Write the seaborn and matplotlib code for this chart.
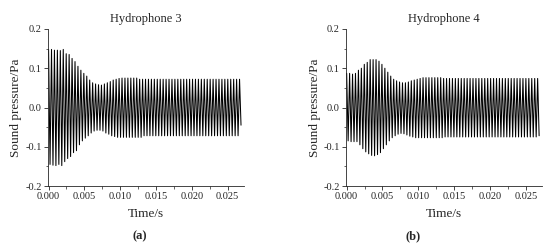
import numpy as np
import pandas as pd
import seaborn as sns
import matplotlib.pyplot as plt
from matplotlib.ticker import MultipleLocator, FormatStrFormatter

# periodo aproximado de la señal (s)
periodo = 0.00041

# picos positivos / negativos por ciclo (Pa)
h3_pos = [0.148, 0.148, 0.146, 0.146, 0.145, 0.148, 0.137, 0.135, 0.125, 0.117,
          0.105, 0.095, 0.087, 0.080, 0.070, 0.063, 0.060, 0.058, 0.057, 0.060,
          0.063, 0.066, 0.070, 0.072, 0.074] + [0.075] * 6 + [0.072] * 35
h3_neg = [-0.145, -0.147, -0.148, -0.145, -0.148, -0.138, -0.130, -0.125, -0.115, -0.110,
          -0.095, -0.085, -0.078, -0.072, -0.065, -0.060, -0.058, -0.058, -0.060, -0.065,
          -0.068, -0.072, -0.074] + [-0.076] * 9 + [-0.072] * 33
h3_fin = -0.045

h4_pos = [0.087, 0.087, 0.085, 0.087, 0.095, 0.100, 0.110, 0.115, 0.122, 0.122,
          0.122, 0.118, 0.110, 0.100, 0.090, 0.080, 0.072, 0.068, 0.065, 0.063,
          0.063, 0.065, 0.068, 0.070, 0.072, 0.074] + [0.076] * 7 + [0.074] * 33
h4_neg = [-0.085, -0.087, -0.087, -0.087, -0.095, -0.105, -0.113, -0.118, -0.122, -0.123,
          -0.120, -0.115, -0.105, -0.095, -0.085, -0.077, -0.072, -0.068, -0.066, -0.067,
          -0.070, -0.073, -0.075] + [-0.077] * 10 + [-0.075] * 32
h4_fin = -0.072

titulos = ['Hydrophone 3', 'Hydrophone 4']
etiquetas = ['(a)', '(b)']


def armar_senal(pos, neg, fin):
    # alterna pico positivo y negativo; el ultimo tramo baja hasta 'fin'
    vals = []
    for k, p in enumerate(pos):
        vals.append(p)
        vals.append(neg[k] if k < len(neg) else fin)
    t = np.arange(len(vals)) * periodo / 2
    return pd.DataFrame({'t': t, 'p': vals})


sns.set_style('ticks')
plt.rcParams['font.family'] = ['Liberation Serif', 'DejaVu Serif']
plt.rcParams['mathtext.fontset'] = 'stix'

fig = plt.figure(figsize=(5.5, 2.5), dpi=100)
posiciones = [[0.087, 0.256, 0.357, 0.628], [0.629, 0.256, 0.357, 0.628]]
senales = [armar_senal(h3_pos, h3_neg, h3_fin), armar_senal(h4_pos, h4_neg, h4_fin)]
centros_letra = [140 / 550, 413 / 550]

for i in range(2):
    ax = fig.add_axes(posiciones[i])
    sns.lineplot(data=senales[i], x='t', y='p', ax=ax, color='black',
                 linewidth=0.75, estimator=None)
    ax.set_xlim(-0.0001, 0.0273)
    ax.set_ylim(-0.2, 0.2)
    ax.xaxis.set_major_locator(MultipleLocator(0.005))
    ax.xaxis.set_minor_locator(MultipleLocator(0.0025))
    ax.yaxis.set_major_locator(MultipleLocator(0.1))
    ax.yaxis.set_minor_locator(MultipleLocator(0.05))
    ax.xaxis.set_major_formatter(FormatStrFormatter('%.3f'))
    ax.yaxis.set_major_formatter(FormatStrFormatter('%.1f'))
    ax.tick_params(which='major', length=3, width=0.6, labelsize=7.5, pad=1.5)
    ax.tick_params(which='minor', length=1.8, width=0.5)
    for s in ['left', 'bottom']:
        ax.spines[s].set_linewidth(0.6)
    sns.despine(ax=ax)
    ax.set_title(titulos[i], fontsize=9, pad=5)
    ax.set_xlabel('Time/s', fontsize=9.5, labelpad=5)
    ax.set_ylabel('Sound pressure/Pa', fontsize=9.5, labelpad=2)
    fig.text(centros_letra[i], 0.055, etiquetas[i], fontsize=9, fontweight='bold',
             ha='center', va='center')

plt.savefig('out.png', dpi=100)
